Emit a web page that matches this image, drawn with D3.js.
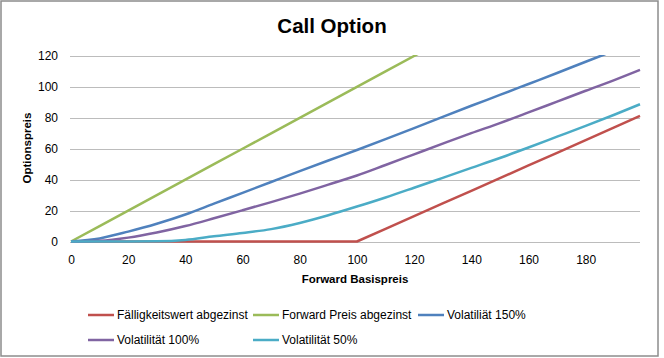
<!DOCTYPE html>
<html>
<head>
<meta charset="utf-8">
<script src="https://cdn.jsdelivr.net/npm/d3@7/dist/d3.min.js"></script>
<style>
  html, body { margin: 0; padding: 0; background: #fff; }
  svg { display: block; }
  text { font-family: "Liberation Sans", Arial, sans-serif; fill: #000; }
</style>
</head>
<body>
<svg id="chart" width="664" height="358"></svg>
<script>
// ---- data ----
const forward = [0, 10, 20, 30, 40, 50, 60, 70, 80, 90, 100, 110, 120, 130, 140, 150, 160, 170, 180, 190, 199];
const faelligkeitswert = [0, 0, 0, 0, 0, 0, 0, 0, 0, 0, 0, 8.2, 16.4, 24.6, 32.8, 41.0, 49.2, 57.4, 65.6, 73.8, 81.2];
const forwardPreis = [0, 10, 20, 30, 40, 50, 60, 70, 80, 90, 100, 110, 120, 130, 140, 150, 160, 170, 180, 190, 199];
const vol150 = [0, 2.0, 6.4, 11.5, 17.5, 24.5, 31.5, 38.5, 45.5, 52.4, 59.2, 66.2, 73.3, 80.6, 87.8, 94.8, 101.9, 109.0, 116.3, 123.5, 130.0];
const vol100 = [0, 0.5, 2.5, 5.8, 10.0, 15.0, 20.2, 25.5, 31.0, 36.8, 42.7, 49.5, 56.4, 63.3, 70.1, 76.6, 83.5, 90.5, 97.5, 104.4, 111.0];
const vol50 = [0, 0, 0, 0.1, 1.0, 3.4, 5.5, 8.0, 12.0, 17.0, 22.6, 28.5, 34.8, 41.2, 47.6, 54.0, 60.8, 67.8, 74.8, 82.0, 88.8];
const xTicks = [0, 20, 40, 60, 80, 100, 120, 140, 160, 180];
const yTicks = [0, 20, 40, 60, 80, 100, 120];

const series = [
  { name: "Fälligkeitswert abgezinst", values: faelligkeitswert, color: "#C0504D", curve: d3.curveLinear },
  { name: "Forward Preis abgezinst", values: forwardPreis, color: "#9BBB59", curve: d3.curveLinear },
  { name: "Volatiliät 150%", values: vol150, color: "#4F81BD", curve: d3.curveMonotoneX },
  { name: "Volatilität 100%", values: vol100, color: "#8064A2", curve: d3.curveMonotoneX },
  { name: "Volatilität 50%", values: vol50, color: "#4BACC6", curve: d3.curveMonotoneX }
];

const svg = d3.select("#chart");
const W = 664, H = 358;

// chart border
svg.append("rect").attr("x", 1).attr("y", 1).attr("width", 657).attr("height", 355)
  .attr("fill", "#fff").attr("stroke", "#8c8c8c").attr("stroke-width", 1.5);

const x = d3.scaleLinear().domain([0, 199]).range([71, 640]);
const y = d3.scaleLinear().domain([0, 120]).range([241.5, 56]);

// gridlines
svg.append("g").selectAll("line").data(yTicks).join("line")
  .attr("x1", 70).attr("x2", 640)
  .attr("y1", d => Math.round(y(d)) + 0.5).attr("y2", d => Math.round(y(d)) + 0.5)
  .attr("stroke", "#bcbcbc").attr("stroke-width", 1);

// y tick labels
const yAxis = d3.axisLeft(y).tickValues(yTicks).tickSize(0).tickPadding(0);
const gy = svg.append("g").attr("transform", "translate(58,0)").call(yAxis);
gy.select(".domain").remove();
gy.selectAll("text").attr("font-size", 12).attr("font-family", "Liberation Sans, Arial, sans-serif").attr("fill", "#000");

// x tick labels
const xAxis = d3.axisBottom(x).tickValues(xTicks).tickSize(0).tickPadding(0);
const gx = svg.append("g").attr("transform", "translate(0,255)").call(xAxis);
gx.select(".domain").remove();
gx.selectAll("text").attr("font-size", 12).attr("font-family", "Liberation Sans, Arial, sans-serif").attr("fill", "#000");

// clip
svg.append("clipPath").attr("id", "plotclip").append("rect")
  .attr("x", 70).attr("y", 55).attr("width", 572).attr("height", 190);

const plot = svg.append("g").attr("clip-path", "url(#plotclip)");
series.forEach(s => {
  const line = d3.line().x((d, i) => x(forward[i])).y(d => y(d)).curve(s.curve);
  plot.append("path").datum(s.values)
    .attr("d", line).attr("fill", "none")
    .attr("stroke", s.color).attr("stroke-width", 2.5)
    .attr("stroke-linejoin", "round");
});

// title
svg.append("text").attr("x", 332).attr("y", 33).attr("text-anchor", "middle")
  .attr("font-size", 20.5).attr("font-weight", "bold").text("Call Option");

// axis titles
svg.append("text").attr("transform", "translate(31,148) rotate(-90)")
  .attr("text-anchor", "middle").attr("font-size", 11.5).attr("font-weight", "bold")
  .text("Optionspreis");
svg.append("text").attr("x", 355).attr("y", 283).attr("text-anchor", "middle")
  .attr("font-size", 11.5).attr("font-weight", "bold").text("Forward Basispreis");

// legend
const legendPos = [[88, 315], [253, 315], [418, 315], [88, 340], [253, 340]];
const lg = svg.append("g");
series.forEach((s, i) => {
  const [lx, ly] = legendPos[i];
  lg.append("line").attr("x1", lx).attr("x2", lx + 26).attr("y1", ly).attr("y2", ly)
    .attr("stroke", s.color).attr("stroke-width", 2.5);
  lg.append("text").attr("x", lx + 29).attr("y", ly + 4.3)
    .attr("font-size", 12).text(s.name);
});
</script>
</body>
</html>
